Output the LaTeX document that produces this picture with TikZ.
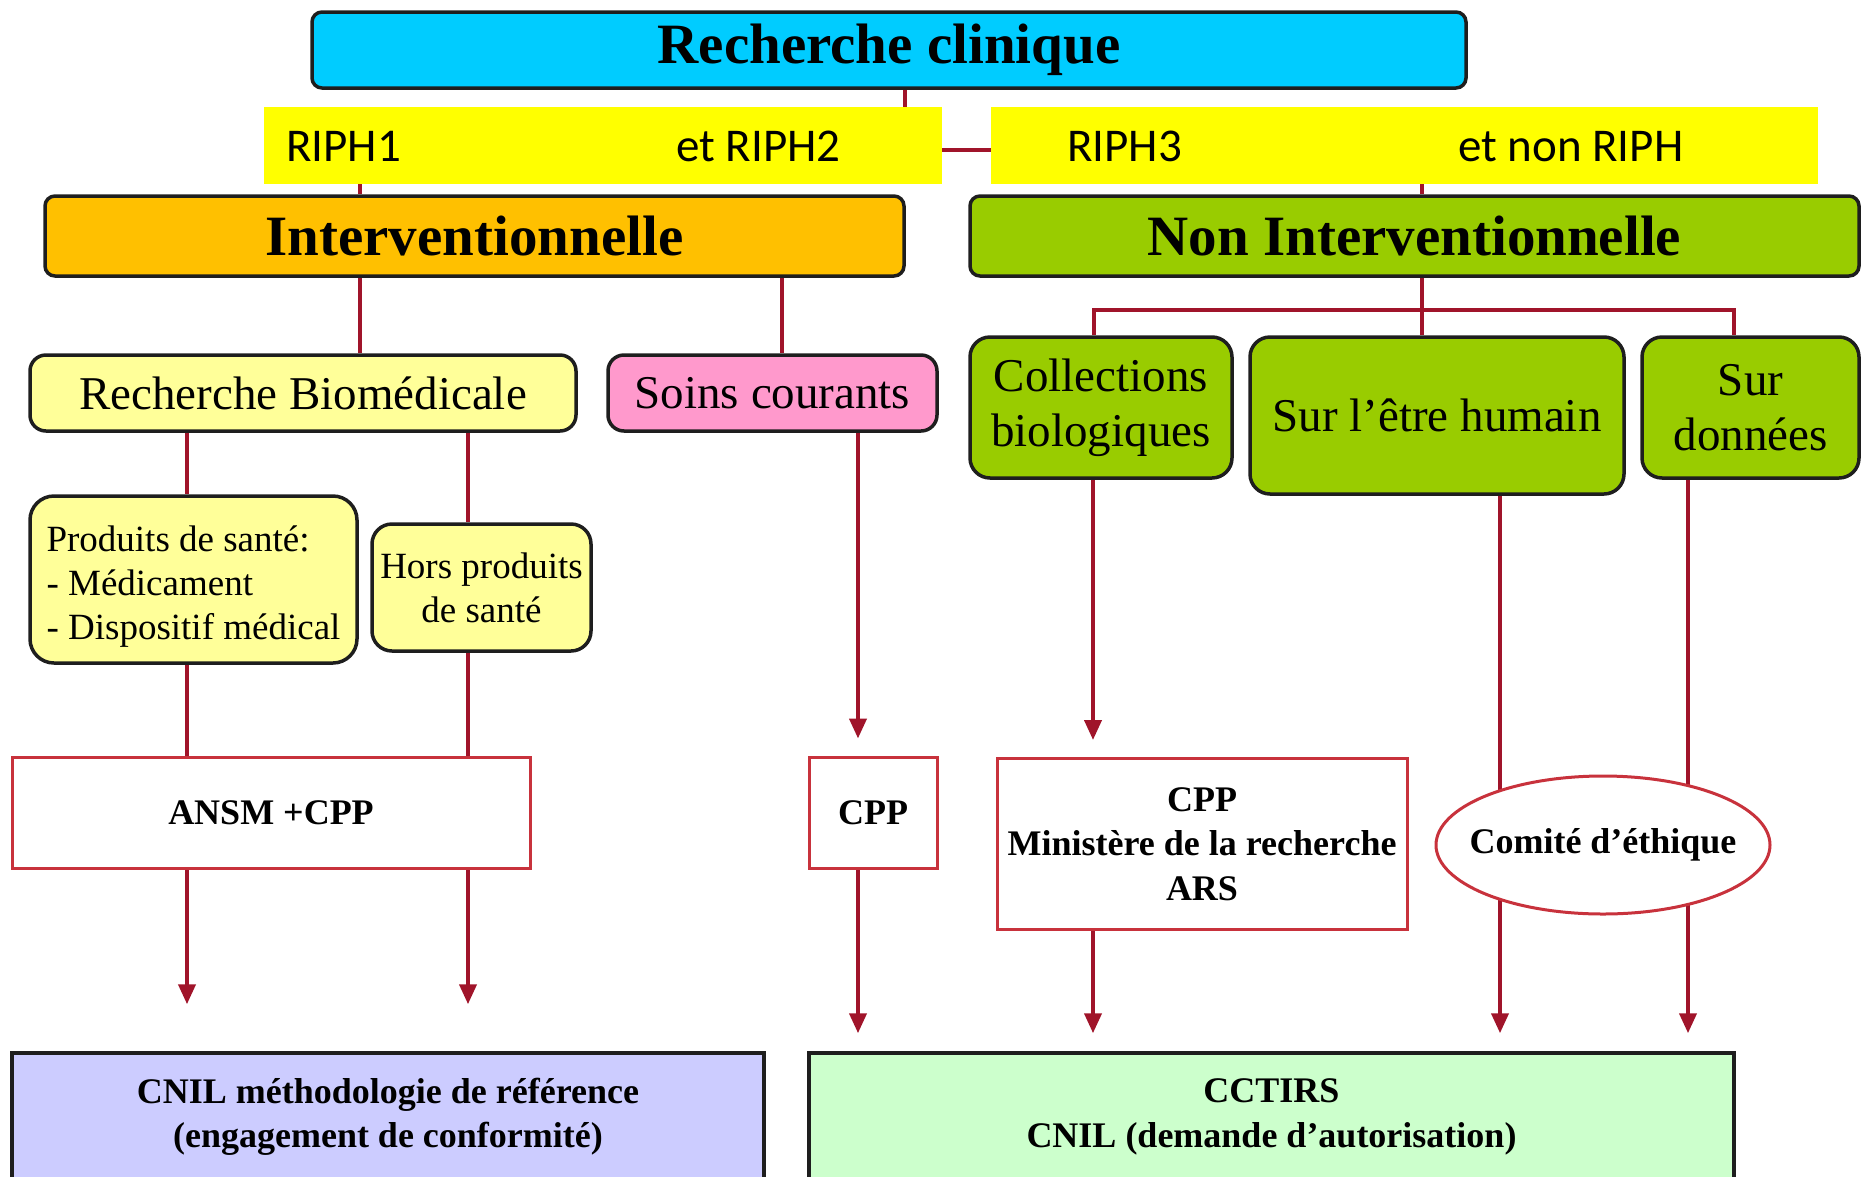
\documentclass[tikz,border=0pt]{standalone}
\usepackage{fontspec}
\setmainfont{Liberation Serif}
\newfontfamily\bandfamily{Carlito}
\usetikzlibrary{arrows.meta,shapes.geometric,backgrounds}

\definecolor{cliniquecyan}{HTML}{00CCFF}
\definecolor{intervorange}{HTML}{FFC000}
\definecolor{nongreen}{HTML}{99CC00}
\definecolor{paleyellow}{HTML}{FFFF99}
\definecolor{soinspink}{HTML}{FF99CC}
\definecolor{cnilblue}{HTML}{CCCCFF}
\definecolor{cctirsgreen}{HTML}{CCFFCC}
\definecolor{bandyellow}{HTML}{FFFF00}
\definecolor{boxline}{HTML}{1E1E1E}
\definecolor{redline}{HTML}{C8323C}
\definecolor{linkred}{HTML}{A0142A}

\newcommand\fhead{\fontsize{57}{60}\selectfont\bfseries}
\newcommand\fmid{\fontsize{47}{55}\selectfont}
\newcommand\fsmall{\fontsize{37}{44}\selectfont}
\newcommand\fsbold{\fontsize{36}{44.5}\selectfont\bfseries}
\newcommand\fband{\bandfamily\fontsize{47}{50}\selectfont}

\begin{document}
\begin{tikzpicture}[
        x=1pt, y=-1pt,
        box/.style={
            draw=boxline, line width=3.5pt, rounded corners=10pt,
            align=center, inner sep=0pt
        },
        head/.style={box, font=\fhead},
        sub/.style={box, rounded corners=16pt, font=\fmid},
        prod/.style={box, rounded corners=24pt, font=\fsmall},
        redbox/.style={
            draw=redline, line width=3pt, fill=white,
            align=center, font=\fsbold, inner sep=0pt
        },
        bottom/.style={draw=boxline, line width=3.5pt, align=center, font=\fsbold, inner sep=0pt},
        band/.style={fill=bandyellow, inner sep=0pt},
        bandtext/.style={font=\fband, anchor=base west, inner sep=0pt},
        link/.style={draw=linkred, line width=4pt},
        arrow/.style={link, -{Triangle[length=20pt,width=17pt]}}
        ]

        \useasboundingbox (0,0) rectangle (1866,1176);
        \clip (0,0) rectangle (1866,1176);

        % --- Top ---
        \node[head, fill=cliniquecyan, minimum width=1154pt, minimum height=76pt] (clinique) at (889,50)
        {Recherche clinique};

        % --- Yellow bands ---
        \node[band, minimum width=678pt, minimum height=77pt] (bandl) at (603,145.5) {};
        \node[band, minimum width=827pt, minimum height=77pt] (bandr) at (1404.5,145.5) {};
        \node[bandtext] (riph1) at (286,161) {RIPH1};
        \node[bandtext] (riph2) at (676,161) {et RIPH2};
        \node[bandtext] (riph3) at (1067,161) {RIPH3};
        \node[bandtext] (nonriph) at (1458,161) {et non RIPH};

        % --- Second level ---
        \node[head, fill=intervorange, minimum width=859pt, minimum height=80pt] (interv) at (474.5,236)
        {Interventionnelle};
        \node[head, fill=nongreen, minimum width=889pt, minimum height=80pt] (noninterv) at (1414.5,236)
        {Non Interventionnelle};

        % --- Interventionnelle branch ---
        \node[sub, fill=paleyellow, minimum width=546pt, minimum height=76pt] (biomed) at (303,393)
        {Recherche Biomédicale};
        \node[sub, fill=soinspink, minimum width=329pt, minimum height=76pt] (soins) at (772.5,393)
        {Soins courants};
        \node[prod, fill=paleyellow, align=left, minimum width=327pt, minimum height=167pt] (produits) at (193.5,579.5)
        {\rule{0pt}{40pt}Produits de santé:\\- Médicament\\- Dispositif médical};
        \node[prod, fill=paleyellow, rounded corners=20pt, minimum width=219pt, minimum height=127pt] (hors) at (481.5,587.5)
        {Hors produits\\de santé};

        % --- Non Interventionnelle branch ---
        \node[sub, fill=nongreen, rounded corners=20pt, minimum width=262pt, minimum height=141pt] (collect) at (1101,407.5)
        {Collections\\biologiques};
        \node[sub, fill=nongreen, rounded corners=20pt, minimum width=374pt, minimum height=157pt] (humain) at (1437,415.5)
        {Sur l’être humain};
        \node[sub, fill=nongreen, rounded corners=20pt, minimum width=217pt, minimum height=141pt] (donnees) at (1750.5,407.5)
        {Sur\\données};

        % --- Committees ---
        \node[redbox, minimum width=518pt, minimum height=111pt] (ansm) at (271,812.5) {ANSM +CPP};
        \node[redbox, minimum width=128pt, minimum height=111pt] (cpp) at (873,812.5) {CPP};
        \node[redbox, minimum width=410pt, minimum height=171pt] (minist) at (1202,844)
        {CPP\\Ministère de la recherche\\ARS};
        \node[redbox, ellipse, minimum width=334pt, minimum height=138pt] (ethique) at (1603,845)
        {\makebox[200pt]{Comité d’éthique}};

        % --- Bottom ---
        \node[bottom, fill=cnilblue, minimum width=752pt, minimum height=128pt] (cnil) at (388,1117)
        {CNIL méthodologie de référence\\(engagement de conformité)};
        \node[bottom, fill=cctirsgreen, minimum width=925pt, minimum height=128pt] (cctirs) at (1271.5,1117)
        {CCTIRS\\CNIL (demande d’autorisation)};

        % --- Line positions ---
        \coordinate (split) at (905,150);
        \coordinate (jl) at (360,150);
        \coordinate (jr) at (1422,150);
        \coordinate (ji) at (782,0);
        \coordinate (bar) at (1422,310);
        \coordinate (barl) at (1094,310);
        \coordinate (barr) at (1734,310);
        \coordinate (ca) at (187,0);
        \coordinate (cb) at (468,0);
        \coordinate (cc) at (858,0);
        \coordinate (cd) at (1093,0);
        \coordinate (ce) at (1500,0);
        \coordinate (cf) at (1688,0);

        % --- Connectors ---
        \begin{scope}[on background layer]
        \draw[link] (clinique.south -| split) -- (split);
        \draw[link] (jl) -- (jr);
        \draw[link] (jl) -- (jl |- interv.north);
        \draw[link] (jr) -- (jr |- noninterv.north);

        \draw[link] (jl |- interv.south) -- (jl |- biomed.north);
        \draw[link] (ji |- interv.south) -- (ji |- soins.north);
        \draw[link] (ca |- biomed.south) -- (ca |- produits.north);
        \draw[link] (cb |- biomed.south) -- (cb |- hors.north);
        \draw[link] (ca |- produits.south) -- (ca |- ansm.north);
        \draw[link] (cb |- hors.south) -- (cb |- ansm.north);
        \draw[arrow, shorten >=47pt] (ca |- ansm.south) -- (ca |- cnil.north);
        \draw[arrow, shorten >=47pt] (cb |- ansm.south) -- (cb |- cnil.north);

        \draw[arrow, shorten >=17pt] (cc |- soins.south) -- (cc |- cpp.north);
        \draw[arrow, shorten >=18pt] (cc |- cpp.south) -- (cc |- cctirs.north);

        \draw[link] (bar |- noninterv.south) -- (bar |- humain.north);
        \draw[link] (barl |- collect.north) |- (barr) -- (barr |- donnees.north);
        \draw[arrow, shorten >=17pt] (cd |- collect.south) -- (cd |- minist.north);
        \draw[arrow, shorten >=18pt] (cd |- minist.south) -- (cd |- cctirs.north);
        \draw[arrow, shorten >=18pt] (ce |- humain.south) -- (ce |- cctirs.north);
        \draw[arrow, shorten >=18pt] (cf |- donnees.south) -- (cf |- cctirs.north);
        \end{scope}

    \end{tikzpicture}
\end{document}
